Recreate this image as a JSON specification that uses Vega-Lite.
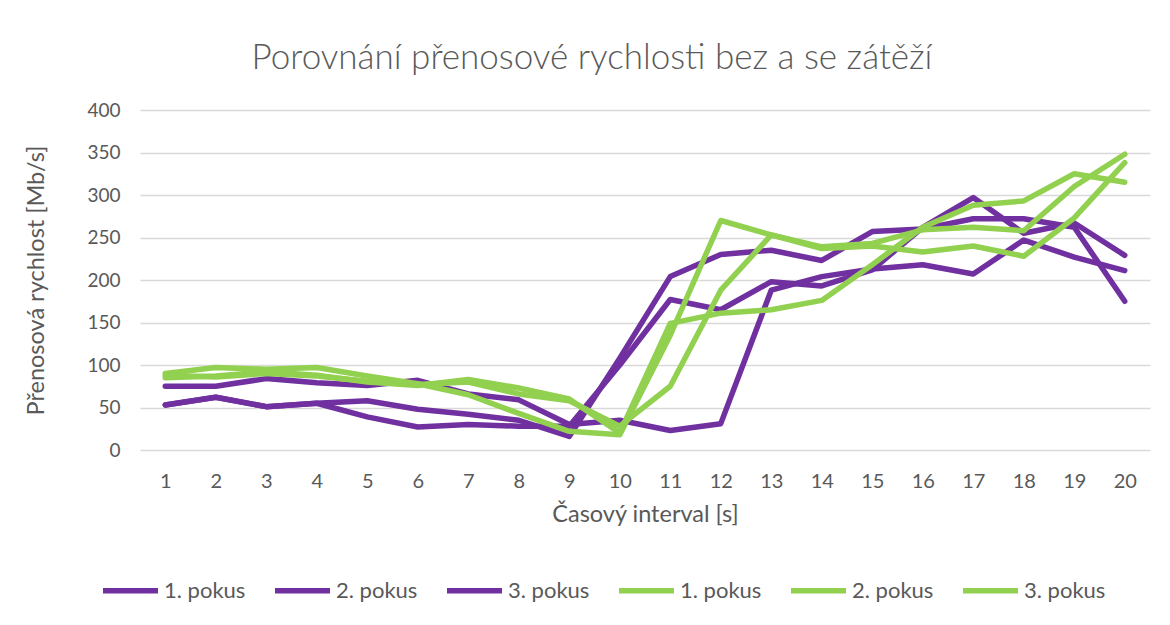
{
  "$schema": "https://vega.github.io/schema/vega-lite/v6.json",
  "width": 1010,
  "height": 340,
  "autosize": {"type": "none"},
  "padding": {"left": 140, "top": 110, "right": 20, "bottom": 175},
  "background": "white",
  "title": {
    "text": "Porovnání přenosové rychlosti bez a se zátěží",
    "font": "Lato",
    "fontWeight": 300,
    "fontSize": 35,
    "color": "#595959",
    "anchor": "middle",
    "frame": "group",
    "dx": -53,
    "offset": 25
  },
  "datasets": {
    "rows": [
      {"s":"P1","x":1,"v":75},{"s":"P1","x":2,"v":75},{"s":"P1","x":3,"v":84},{"s":"P1","x":4,"v":79},{"s":"P1","x":5,"v":76},{"s":"P1","x":6,"v":82},{"s":"P1","x":7,"v":66},{"s":"P1","x":8,"v":59},{"s":"P1","x":9,"v":30},{"s":"P1","x":10,"v":35},{"s":"P1","x":11,"v":23},{"s":"P1","x":12,"v":31},{"s":"P1","x":13,"v":188},{"s":"P1","x":14,"v":204},{"s":"P1","x":15,"v":213},{"s":"P1","x":16,"v":218},{"s":"P1","x":17,"v":207},{"s":"P1","x":18,"v":247},{"s":"P1","x":19,"v":227},{"s":"P1","x":20,"v":211},
      {"s":"P2","x":1,"v":53},{"s":"P2","x":2,"v":62},{"s":"P2","x":3,"v":51},{"s":"P2","x":4,"v":55},{"s":"P2","x":5,"v":58},{"s":"P2","x":6,"v":48},{"s":"P2","x":7,"v":42},{"s":"P2","x":8,"v":35},{"s":"P2","x":9,"v":16},{"s":"P2","x":10,"v":108},{"s":"P2","x":11,"v":204},{"s":"P2","x":12,"v":230},{"s":"P2","x":13,"v":235},{"s":"P2","x":14,"v":223},{"s":"P2","x":15,"v":257},{"s":"P2","x":16,"v":260},{"s":"P2","x":17,"v":272},{"s":"P2","x":18,"v":272},{"s":"P2","x":19,"v":262},{"s":"P2","x":20,"v":175},
      {"s":"P3","x":1,"v":53},{"s":"P3","x":2,"v":62},{"s":"P3","x":3,"v":51},{"s":"P3","x":4,"v":55},{"s":"P3","x":5,"v":39},{"s":"P3","x":6,"v":27},{"s":"P3","x":7,"v":30},{"s":"P3","x":8,"v":28},{"s":"P3","x":9,"v":28},{"s":"P3","x":10,"v":100},{"s":"P3","x":11,"v":177},{"s":"P3","x":12,"v":165},{"s":"P3","x":13,"v":198},{"s":"P3","x":14,"v":193},{"s":"P3","x":15,"v":212},{"s":"P3","x":16,"v":262},{"s":"P3","x":17,"v":297},{"s":"P3","x":18,"v":255},{"s":"P3","x":19,"v":267},{"s":"P3","x":20,"v":229},
      {"s":"G1","x":1,"v":90},{"s":"G1","x":2,"v":97},{"s":"G1","x":3,"v":95},{"s":"G1","x":4,"v":97},{"s":"G1","x":5,"v":87},{"s":"G1","x":6,"v":78},{"s":"G1","x":7,"v":65},{"s":"G1","x":8,"v":43},{"s":"G1","x":9,"v":22},{"s":"G1","x":10,"v":18},{"s":"G1","x":11,"v":135},{"s":"G1","x":12,"v":270},{"s":"G1","x":13,"v":253},{"s":"G1","x":14,"v":239},{"s":"G1","x":15,"v":243},{"s":"G1","x":16,"v":259},{"s":"G1","x":17,"v":262},{"s":"G1","x":18,"v":258},{"s":"G1","x":19,"v":310},{"s":"G1","x":20,"v":348},
      {"s":"G2","x":1,"v":85},{"s":"G2","x":2,"v":87},{"s":"G2","x":3,"v":92},{"s":"G2","x":4,"v":88},{"s":"G2","x":5,"v":80},{"s":"G2","x":6,"v":76},{"s":"G2","x":7,"v":83},{"s":"G2","x":8,"v":73},{"s":"G2","x":9,"v":60},{"s":"G2","x":10,"v":20},{"s":"G2","x":11,"v":149},{"s":"G2","x":12,"v":161},{"s":"G2","x":13,"v":165},{"s":"G2","x":14,"v":176},{"s":"G2","x":15,"v":218},{"s":"G2","x":16,"v":262},{"s":"G2","x":17,"v":288},{"s":"G2","x":18,"v":293},{"s":"G2","x":19,"v":325},{"s":"G2","x":20,"v":315},
      {"s":"G3","x":1,"v":88},{"s":"G3","x":2,"v":86},{"s":"G3","x":3,"v":90},{"s":"G3","x":4,"v":87},{"s":"G3","x":5,"v":81},{"s":"G3","x":6,"v":77},{"s":"G3","x":7,"v":80},{"s":"G3","x":8,"v":66},{"s":"G3","x":9,"v":58},{"s":"G3","x":10,"v":28},{"s":"G3","x":11,"v":75},{"s":"G3","x":12,"v":188},{"s":"G3","x":13,"v":253},{"s":"G3","x":14,"v":237},{"s":"G3","x":15,"v":240},{"s":"G3","x":16,"v":233},{"s":"G3","x":17,"v":240},{"s":"G3","x":18,"v":228},{"s":"G3","x":19,"v":273},{"s":"G3","x":20,"v":338}
    ]
  },
  "data": {"name": "rows"},
  "mark": {"type": "line", "strokeWidth": 5.5, "strokeCap": "round", "strokeJoin": "round"},
  "encoding": {
    "x": {
      "field": "x",
      "type": "ordinal",
      "scale": {"padding": 0.5},
      "axis": {
        "title": "Časový interval [s]",
        "labelAngle": 0,
        "labelFont": "Lato",
        "labelFontSize": 20,
        "labelColor": "#595959",
        "labelPadding": 21,
        "domain": false,
        "ticks": false,
        "grid": false,
        "titleFont": "Lato",
        "titleFontSize": 23.5,
        "titleFontWeight": "normal",
        "titleColor": "#595959",
        "titlePadding": 11
      }
    },
    "y": {
      "field": "v",
      "type": "quantitative",
      "scale": {"domain": [0, 400], "nice": false, "zero": true},
      "axis": {
        "title": "Přenosová rychlost [Mb/s]",
        "values": [0, 50, 100, 150, 200, 250, 300, 350, 400],
        "labelFont": "Lato",
        "labelFontSize": 19,
        "labelColor": "#595959",
        "labelPadding": 20,
        "domain": false,
        "ticks": false,
        "grid": true,
        "gridColor": "#D9D9D9",
        "gridWidth": 1.5,
        "titleFont": "Lato",
        "titleFontSize": 23.5,
        "titleFontWeight": "normal",
        "titleColor": "#595959",
        "titlePadding": 38
      }
    },
    "color": {
      "field": "s",
      "type": "nominal",
      "scale": {
        "domain": ["P1", "P2", "P3", "G1", "G2", "G3"],
        "range": ["#7030A0", "#7030A0", "#7030A0", "#92D050", "#92D050", "#92D050"]
      },
      "legend": {
        "title": null,
        "orient": "none",
        "legendX": -40,
        "legendY": 450,
        "direction": "horizontal",
        "columns": 6,
        "symbolType": "stroke",
        "symbolSize": 3025,
        "symbolStrokeWidth": 5.5,
        "labelExpr": "substring(datum.label, 1) + '. pokus'",
        "labelFont": "Lato",
        "labelFontSize": 22,
        "labelColor": "#595959",
        "labelOffset": 3,
        "columnPadding": 18
      }
    }
  },
  "config": {
    "view": {"stroke": null}
  }
}
